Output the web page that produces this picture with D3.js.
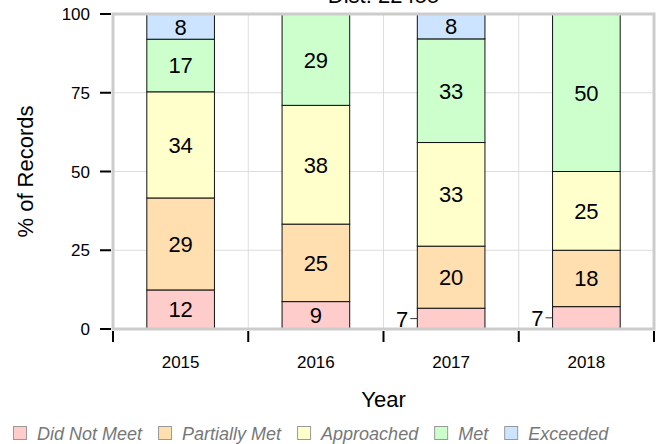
<!DOCTYPE html>
<html>
<head>
<meta charset="utf-8">
<script src="https://cdn.jsdelivr.net/npm/d3@7"></script>
<style>
  body { margin: 0; background: #fff; }
  text { font-family: "Liberation Sans", Arial, sans-serif; }
</style>
</head>
<body>
<svg></svg>
<script>
var width = 660;
var height = 444;

var years = ['2015', '2016', '2017', '2018'];
var levels = ['Did Not Meet', 'Partially Met', 'Approached', 'Met', 'Exceeded'];
var colors = ['#ffcccc', '#ffdfb0', '#ffffcc', '#ccffcc', '#cce4ff'];
// % of records per level, one list per year
var didNotMeet   = [12.4, 8.7, 6.6, 7.1];
var partiallyMet = [29.2, 24.6, 19.7, 17.9];
var approached   = [33.7, 37.7, 32.9, 25.0];
var met          = [16.7, 29.0, 32.9, 50.0];
var exceeded     = [8.0, 0, 7.9, 0];
var yTicks = [0, 25, 50, 75, 100];
var title = 'Dist: 22455';

// plot box (note: "top" is taken by window.top)
var pLeft = 113, pRight = 654, pTop = 14, pBottom = 329;

var svg = d3.select('svg')
    .attr('width', width)
    .attr('height', height);

var x = d3.scaleBand().domain(years).range([pLeft, pRight]).paddingInner(0).paddingOuter(0);
var y = d3.scaleLinear().domain([0, 100]).range([pBottom, pTop]);

// grid
var g = svg.append('g');
g.selectAll('.hgrid')
    .data(yTicks.slice(1, -1))
    .enter().append('line')
    .attr('x1', pLeft).attr('x2', pRight)
    .attr('y1', d => y(d)).attr('y2', d => y(d))
    .attr('stroke', '#dddddd').attr('stroke-width', 1);
g.selectAll('.vgrid')
    .data(years.slice(1))
    .enter().append('line')
    .attr('x1', d => x(d)).attr('x2', d => x(d))
    .attr('y1', pTop).attr('y2', pBottom)
    .attr('stroke', '#dddddd').attr('stroke-width', 1);

// stacked bars
var rows = years.map(function(yr, i) {
    return {year: yr, 'Did Not Meet': didNotMeet[i], 'Partially Met': partiallyMet[i],
        'Approached': approached[i], 'Met': met[i], 'Exceeded': exceeded[i]};
});
var series = d3.stack().keys(levels)(rows);
var barW = x.bandwidth() * 0.5;

series.forEach(function(s, k) {
    s.forEach(function(d) {
        var v = d[1] - d[0];
        if (v <= 0) return;
        var cx = x(d.data.year) + x.bandwidth() / 2;
        svg.append('rect')
            .attr('x', cx - barW / 2)
            .attr('y', y(d[1]))
            .attr('width', barW)
            .attr('height', y(d[0]) - y(d[1]))
            .attr('fill', colors[k])
            .attr('stroke', '#111')
            .attr('stroke-width', 1);
        var my = (y(d[0]) + y(d[1])) / 2;
        var h = y(d[0]) - y(d[1]);
        if (h >= 24) {
            svg.append('text')
                .attr('x', cx).attr('y', my)
                .attr('dy', '0.36em')
                .attr('text-anchor', 'middle')
                .attr('font-size', 22)
                .text(Math.round(v));
        } else {
            svg.append('line')
                .attr('x1', cx - barW / 2 - 7).attr('x2', cx - barW / 2)
                .attr('y1', my).attr('y2', my)
                .attr('stroke', '#333').attr('stroke-width', 1);
            svg.append('text')
                .attr('x', cx - barW / 2 - 9).attr('y', my)
                .attr('dy', '0.36em')
                .attr('text-anchor', 'end')
                .attr('font-size', 22)
                .text(Math.round(v));
        }
    });
});

// frame
svg.append('rect')
    .attr('x', pLeft).attr('y', pTop)
    .attr('width', pRight - pLeft).attr('height', pBottom - pTop)
    .attr('fill', 'none')
    .attr('stroke', '#cccccc')
    .attr('stroke-width', 3);

// y axis ticks
svg.selectAll('.ytick')
    .data(yTicks)
    .enter().append('line')
    .attr('x1', 100).attr('x2', 111)
    .attr('y1', d => y(d)).attr('y2', d => y(d))
    .attr('stroke', '#000').attr('stroke-width', 2);
svg.selectAll('.ylab')
    .data(yTicks)
    .enter().append('text')
    .attr('x', 90).attr('y', d => y(d))
    .attr('dy', '0.36em')
    .attr('text-anchor', 'end')
    .attr('font-size', 17)
    .text(d => d);

// x axis ticks at band edges
var edges = years.map(d => x(d)).concat([pRight]);
svg.selectAll('.xtick')
    .data(edges)
    .enter().append('line')
    .attr('x1', d => d).attr('x2', d => d)
    .attr('y1', 331).attr('y2', 342)
    .attr('stroke', '#000').attr('stroke-width', 2);
svg.selectAll('.xlab')
    .data(years)
    .enter().append('text')
    .attr('x', d => x(d) + x.bandwidth() / 2)
    .attr('y', 368)
    .attr('text-anchor', 'middle')
    .attr('font-size', 17)
    .text(d => d);

// axis titles
svg.append('text')
    .attr('x', pLeft + (pRight - pLeft) / 2)
    .attr('y', 407)
    .attr('text-anchor', 'middle')
    .attr('font-size', 22)
    .text('Year');
svg.append('text')
    .attr('transform', 'translate(33,' + ((pTop + pBottom) / 2) + ') rotate(-90)')
    .attr('text-anchor', 'middle')
    .attr('font-size', 22)
    .text('% of Records');

svg.append('text')
    .attr('x', pLeft + (pRight - pLeft) / 2)
    .attr('y', 3)
    .attr('text-anchor', 'middle')
    .attr('font-size', 22)
    .text(title);

// legend, laid out left to right by text width
var lx = 13;
levels.forEach(function(name, i) {
    var item = svg.append('g').attr('transform', 'translate(' + lx + ',426)');
    item.append('rect')
        .attr('x', 0.5).attr('y', 0.5)
        .attr('width', 13).attr('height', 13)
        .attr('fill', colors[i])
        .attr('stroke', '#999');
    var t = item.append('text')
        .attr('x', 24).attr('y', 14)
        .attr('font-size', 18)
        .attr('font-style', 'italic')
        .attr('fill', '#777')
        .text(name);
    lx += 24 + t.node().getComputedTextLength() + 16;
});
</script>
</body>
</html>
